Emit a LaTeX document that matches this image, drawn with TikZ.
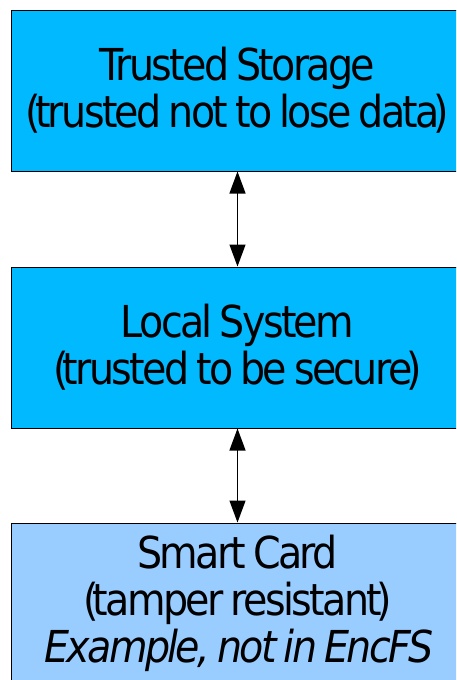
\documentclass[tikz,border=0pt]{standalone}
\usepackage{fontspec}
\setmainfont{DejaVu Sans}[FakeStretch=0.9,LetterSpace=-6,WordSpace=0.7]
\usetikzlibrary{arrows.meta}

\definecolor{trustfill}{HTML}{00B9FF}
\definecolor{cardfill}{HTML}{99CCFF}

% tight brackets round a remark
\newcommand{\remark}[1]{(\kern-6pt#1\kern-6pt)}

\begin{document}
\begin{tikzpicture}[x=1pt, y=-1pt,
  every box/.style={draw=black, line width=1pt, inner sep=0pt,
    minimum width=453pt, minimum height=161pt, align=center,
    font=\fontsize{44}{47}\selectfont},
  box trusted/.style={fill=trustfill},
  box card/.style={fill=cardfill},
  link/.style={line width=1.3pt,
    {Triangle[length=22pt,width=16pt]}-{Triangle[length=22pt,width=16pt]}}]

\useasboundingbox (0,0) rectangle (456,680);
\clip (0,0) rectangle (456,680);

\node [every box, box trusted] (storage) at (237.5,90.5)
  {Trusted Storage\\\remark{trusted not to lose data}};
\node [every box, box trusted] (local) at (237.5,347.5)
  {Local System\\\remark{trusted to be secure}};
\node [every box, box card] (card) at (237.5,603.5)
  {Smart Card\\\remark{tamper resistant}\\\textit{Example, not in EncFS}};

\draw [link] (storage) -- (local);
\draw [link] (local) -- (card);

\end{tikzpicture}
\end{document}
